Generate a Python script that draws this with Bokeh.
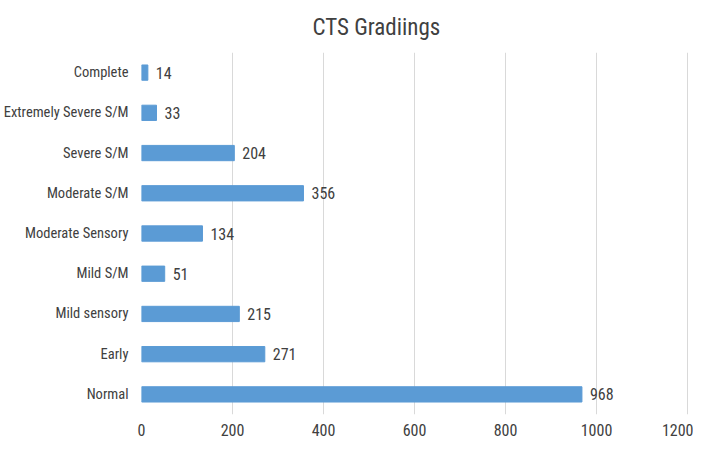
from bokeh.plotting import figure
from bokeh.models import Range1d, FactorRange, ColumnDataSource, FixedTicker, Title
from bokeh.core.properties import value
from bokeh.embed import file_html
from bokeh.resources import INLINE

categories = ["Normal", "Early", "Mild sensory", "Mild S/M", "Moderate Sensory",
              "Moderate S/M", "Severe S/M", "Extremely Severe S/M", "Complete"]
counts = [968, 271, 215, 51, 134, 356, 204, 33, 14]
x_ticks = [0, 200, 400, 600, 800, 1000, 1200]
title_text = "CTS Gradiings"

FONT = "Liberation Sans Narrow, Roboto Condensed, Liberation Sans, sans-serif"

src = ColumnDataSource(dict(cat=categories, val=counts, lab=[str(v) for v in counts]))

p = figure(width=693, height=438, output_backend="svg", toolbar_location=None,
           y_range=FactorRange(*categories, range_padding=0.0),
           x_range=Range1d(0, 1211),
           min_border_left=133, min_border_right=1, min_border_top=30, min_border_bottom=10)
p.title = None
p.add_layout(Title(text=title_text, align="left", offset=171, standoff=23,
                   text_font_size="23px", text_font_style="normal",
                   text_font=FONT, text_color="#404040"), "above")
p.outline_line_color = None
p.background_fill_color = "white"

p.hbar(y="cat", right="val", left=0, height=0.38, source=src,
       fill_color="#5B9BD5", line_color="#5B9BD5")
p.text(x="val", y="cat", text="lab", source=src, x_offset=8,
       text_align="left", text_baseline="middle", text_font_size="16px",
       text_font=value(FONT), text_color="#404040")

p.xaxis.ticker = FixedTicker(ticks=x_ticks)
p.xaxis.axis_line_color = None
p.xaxis.major_tick_line_color = None
p.xaxis.minor_tick_line_color = None
p.xaxis.major_tick_out = 0
p.xaxis.major_label_standoff = 9
p.xaxis.major_label_text_font_size = "16px"
p.xaxis.major_label_text_font = FONT
p.xaxis.major_label_text_color = "#404040"

p.yaxis.axis_line_color = None
p.yaxis.major_tick_line_color = None
p.yaxis.major_tick_out = 0
p.yaxis.major_label_standoff = 13
p.yaxis.major_label_text_font_size = "14.5px"
p.yaxis.major_label_text_font = FONT
p.yaxis.major_label_text_color = "#404040"

p.xgrid.grid_line_color = "#d9d9d9"
p.ygrid.grid_line_color = None

open("out.html", "w").write(file_html(p, INLINE))
